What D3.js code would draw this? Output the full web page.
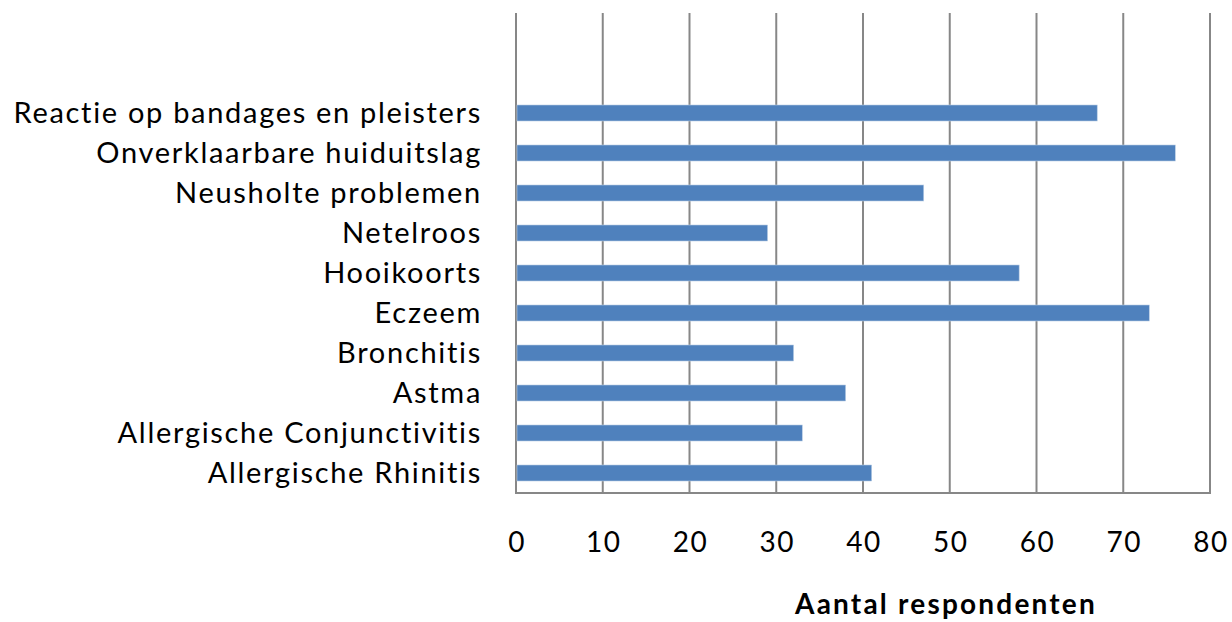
<!DOCTYPE html>
<html lang="nl">
<head>
  <meta charset="UTF-8">
  <title>Aantal respondenten</title>
  <style>
    body { margin: 0; background: #fff; }
    svg text { font-family: Lato, "Open Sans", sans-serif; fill: #000; }
    .grid line { stroke: #878787; stroke-width: 2px; }
    .bar { fill: #4f81bd; stroke: #b9cde5; stroke-width: 0.6px; }
  </style>
</head>
<body>
  <svg id="chart" width="1232" height="622"></svg>
  <script src="https://d3js.org/d3.v7.min.js"></script>
  <script>
    // categories from bottom to top
    const categories = [
      'Allergische Rhinitis',
      'Allergische Conjunctivitis',
      'Astma',
      'Bronchitis',
      'Eczeem',
      'Hooikoorts',
      'Netelroos',
      'Neusholte problemen',
      'Onverklaarbare huiduitslag',
      'Reactie op bandages en pleisters'
    ];
    const values = [41, 33, 38, 32, 73, 58, 29, 47, 76, 67];
    const xTicks = [0, 10, 20, 30, 40, 50, 60, 70, 80];
    const axisTitle = 'Aantal respondenten';

    const data = categories.map((c, i) => ({ cat: c, val: values[i] }));

    const plotLeft = 516, plotRight = 1210, plotTop = 13, plotBottom = 493;

    const svg = d3.select('#chart');

    const x = d3.scaleLinear().domain([0, 80]).range([plotLeft, plotRight]);

    // two empty slots above the last category, as in the original plot area
    const slots = categories.concat(['', ' ']);
    const y = d3.scaleBand()
      .domain(slots)
      .range([plotBottom, plotTop])
      .paddingInner(0.6)
      .paddingOuter(0.3);

    // vertical gridlines
    svg.append('g')
      .attr('class', 'grid')
      .selectAll('line')
      .data(xTicks)
      .enter().append('line')
      .attr('x1', d => x(d))
      .attr('x2', d => x(d))
      .attr('y1', plotTop)
      .attr('y2', plotBottom);

    // bottom axis line
    svg.append('line')
      .attr('x1', plotLeft - 1).attr('x2', plotRight + 1)
      .attr('y1', plotBottom).attr('y2', plotBottom)
      .attr('stroke', '#878787').attr('stroke-width', 2);

    // bars
    svg.selectAll('.bar')
      .data(data)
      .enter().append('rect')
      .attr('class', 'bar')
      .attr('x', x(0) + 1)
      .attr('y', d => y(d.cat))
      .attr('width', d => x(d.val) - x(0) - 1)
      .attr('height', y.bandwidth());

    // category labels
    svg.append('g')
      .selectAll('text')
      .data(data)
      .enter().append('text')
      .attr('x', 482)
      .attr('y', d => y(d.cat) + y.bandwidth() / 2)
      .attr('dy', '0.36em')
      .attr('text-anchor', 'end')
      .style('font-size', '29px')
      .style('letter-spacing', '1.7px')
      .text(d => d.cat);

    // x tick labels
    svg.append('g')
      .selectAll('text')
      .data(xTicks)
      .enter().append('text')
      .attr('x', d => x(d) + 1)
      .attr('y', 552)
      .attr('text-anchor', 'middle')
      .style('font-size', '28px')
      .style('letter-spacing', '1.5px')
      .text(d => d);

    // axis title
    svg.append('text')
      .attr('x', 946)
      .attr('y', 614)
      .attr('text-anchor', 'middle')
      .style('font-size', '28px')
      .style('font-weight', 'bold')
      .style('letter-spacing', '2.2px')
      .text(axisTitle);
  </script>
</body>
</html>
